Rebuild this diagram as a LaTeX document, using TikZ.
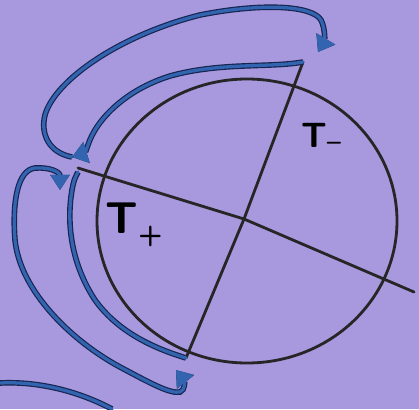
\documentclass[tikz,border=0pt]{standalone}
\usetikzlibrary{arrows.meta}
\definecolor{paper}{RGB}{168,152,222}
\definecolor{inkblue}{RGB}{50,100,175}
\definecolor{inkdark}{RGB}{22,36,80}
\begin{document}
\begin{tikzpicture}[x=0.03cm,y=-0.03cm,
    pen/.style={draw=black!85,line width=2.4pt,line cap=round},
    loopline/.style={draw=inkblue,line width=2.8pt,line cap=round,line join=round,
      preaction={draw=inkdark,line width=4.8pt}},
    tip/.style={-{Triangle[length=13pt,width=18pt]}},
    lbl/.style={font=\sffamily\bfseries,inner sep=0pt}
]
\fill[paper] (0,0) rectangle (419,409);
\useasboundingbox (0,0) rectangle (419,409);

% Circle
\coordinate (c) at (247,221);
\draw[pen] (c) ellipse [x radius=150, y radius=142];

% Chords
\coordinate (x) at (244,219);
\coordinate (top) at (303,62);
\coordinate (bot) at (186,358);
\coordinate (lft) at (78,168);
\coordinate (rgt) at (414,292);
\draw[pen] (top) -- (x) -- (bot);
\draw[pen] (lft) -- (x) -- (rgt);

% Labels
\node[lbl,font=\sffamily\bfseries\fontsize{30}{30}\selectfont] (tminus) at (321,137)
  {T\raisebox{-2pt}{\fontsize{22}{22}\selectfont\textbf{--}}};
\node[lbl,font=\sffamily\bfseries\fontsize{38}{38}\selectfont] (tplus) at (134,225)
  {T\raisebox{-9pt}{\fontsize{24}{24}\selectfont +}};

% Upper loop
\coordinate (ua) at (72,157);
\coordinate (ub) at (318,52);
\draw[loopline,tip] (ua) .. controls (50,153) and (40,135) .. (45,115)
  .. controls (55,80) and (120,35) .. (200,15)
  .. controls (260,3) and (312,5) .. (321,20)
  .. controls (326,30) and (324,42) .. (ub);
\draw[loopline,tip] (top) .. controls (270,68) and (220,62) .. (170,76)
  .. controls (125,90) and (96,120) .. (88,145)
  .. controls (85,153) .. (ua);

% Lower loop
\coordinate (la) at (60,190);
\coordinate (lb) at (176,370);
\draw[loopline,{Triangle[length=13pt,width=16pt]}-{Triangle[length=13pt,width=18pt]}] (la) .. controls (60,172) and (50,167) .. (35,168)
  .. controls (18,170) and (12,200) .. (15,240)
  .. controls (20,290) and (70,340) .. (120,367)
  .. controls (150,383) and (170,394) .. (180,392)
  .. controls (186,390) and (184,380) .. (lb);
\draw[loopline] (bot) .. controls (160,350) and (120,335) .. (95,300)
  .. controls (72,265) and (66,225) .. (72,190)
  .. controls (74,180) .. (78,172);

% Stroke at the bottom edge
\coordinate (sa) at (0,383);
\coordinate (sb) at (112,409);
\draw[loopline] (sa) .. controls (40,381) and (80,392) .. (sb);

\end{tikzpicture}
\end{document}
